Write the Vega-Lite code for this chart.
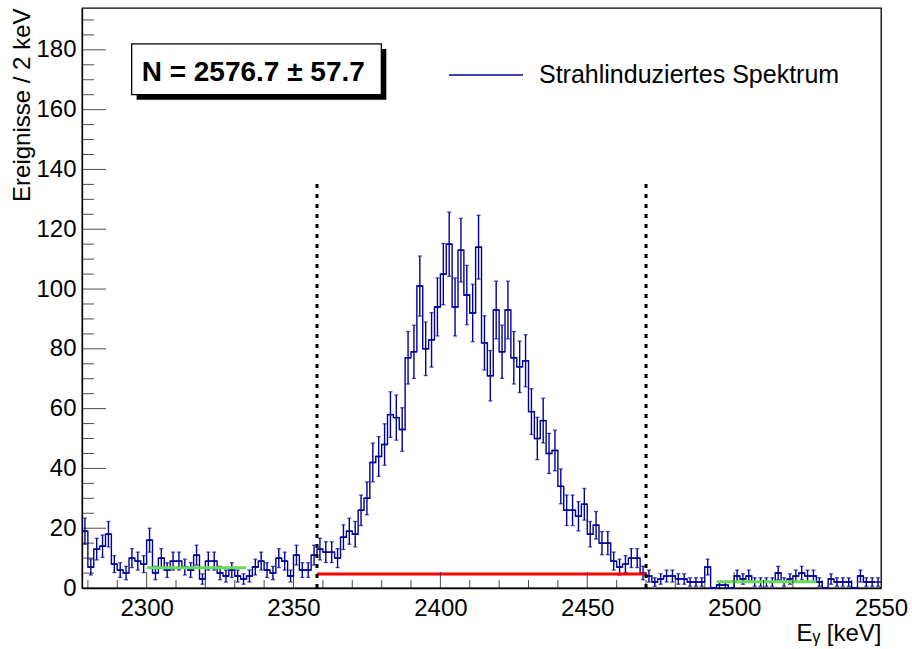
{
  "$schema": "https://vega.github.io/schema/vega-lite/v6.json",
  "width": 799,
  "height": 580,
  "autosize": {"type": "none"},
  "padding": {"left": 82, "top": 8, "right": 31, "bottom": 61},
  "background": "white",
  "config": {"view": {"stroke": "black", "strokeWidth": 1.3}, "font": "Liberation Sans"},
  "datasets": {
    "h": [
      {"e":2278,"n":19},{"e":2280,"n":7},{"e":2282,"n":13},{"e":2284,"n":14},{"e":2286,"n":18},{"e":2288,"n":8},{"e":2290,"n":6},{"e":2292,"n":5},{"e":2294,"n":10},{"e":2296,"n":9},
      {"e":2298,"n":8},{"e":2300,"n":16},{"e":2302,"n":5},{"e":2304,"n":10},{"e":2306,"n":6},{"e":2308,"n":9},{"e":2310,"n":9},{"e":2312,"n":7},{"e":2314,"n":6},{"e":2316,"n":11},
      {"e":2318,"n":3},{"e":2320,"n":9},{"e":2322,"n":9},{"e":2324,"n":5},{"e":2326,"n":4},{"e":2328,"n":6},{"e":2330,"n":4},{"e":2332,"n":3},{"e":2334,"n":4},{"e":2336,"n":7},
      {"e":2338,"n":9},{"e":2340,"n":6},{"e":2342,"n":5},{"e":2344,"n":10},{"e":2346,"n":9},{"e":2348,"n":4},{"e":2350,"n":11},{"e":2352,"n":6},{"e":2354,"n":6},{"e":2356,"n":11},
      {"e":2358,"n":13},{"e":2360,"n":12},{"e":2362,"n":12},{"e":2364,"n":10},{"e":2366,"n":17},{"e":2368,"n":19},{"e":2370,"n":18},{"e":2372,"n":26},{"e":2374,"n":30},{"e":2376,"n":42},
      {"e":2378,"n":44},{"e":2380,"n":48},{"e":2382,"n":58},{"e":2384,"n":57},{"e":2386,"n":53},{"e":2388,"n":77},{"e":2390,"n":79},{"e":2392,"n":101},{"e":2394,"n":80},{"e":2396,"n":83},
      {"e":2398,"n":94},{"e":2400,"n":105},{"e":2402,"n":115},{"e":2404,"n":94},{"e":2406,"n":113},{"e":2408,"n":98},{"e":2410,"n":92},{"e":2412,"n":114},{"e":2414,"n":82},{"e":2416,"n":71},
      {"e":2418,"n":93},{"e":2420,"n":79},{"e":2422,"n":93},{"e":2424,"n":77},{"e":2426,"n":74},{"e":2428,"n":76},{"e":2430,"n":59},{"e":2432,"n":50},{"e":2434,"n":56},{"e":2436,"n":45},
      {"e":2438,"n":46},{"e":2440,"n":34},{"e":2442,"n":26},{"e":2444,"n":26},{"e":2446,"n":24},{"e":2448,"n":28},{"e":2450,"n":18},{"e":2452,"n":21},{"e":2454,"n":15},{"e":2456,"n":15},
      {"e":2458,"n":9},{"e":2460,"n":7},{"e":2462,"n":8},{"e":2464,"n":10},{"e":2466,"n":10},{"e":2468,"n":5},{"e":2470,"n":4},{"e":2472,"n":2},{"e":2474,"n":3},{"e":2476,"n":4},
      {"e":2478,"n":4},{"e":2480,"n":3},{"e":2482,"n":3},{"e":2484,"n":2},{"e":2486,"n":2},{"e":2488,"n":2},{"e":2490,"n":7},{"e":2492,"n":0},{"e":2494,"n":1},{"e":2496,"n":1},
      {"e":2498,"n":0},{"e":2500,"n":4},{"e":2502,"n":3},{"e":2504,"n":4},{"e":2506,"n":2},{"e":2508,"n":2},{"e":2510,"n":2},{"e":2512,"n":2},{"e":2514,"n":5},{"e":2516,"n":2},
      {"e":2518,"n":3},{"e":2520,"n":4},{"e":2522,"n":5},{"e":2524,"n":4},{"e":2526,"n":4},{"e":2528,"n":2},{"e":2530,"n":0},{"e":2532,"n":3},{"e":2534,"n":2},{"e":2536,"n":2},
      {"e":2538,"n":2},{"e":2540,"n":0},{"e":2542,"n":4},{"e":2544,"n":2},{"e":2546,"n":2},{"e":2548,"n":2}
    ],
    "green": [{"a":2300,"b":2334,"v":6.8},{"a":2494,"b":2528,"v":2.1}],
    "red": [{"a":2358,"b":2470,"v":4.7}],
    "cuts": [{"x":2358,"lo":0,"top":135.6},{"x":2470,"lo":0,"top":135.6}],
    "xmaj": [{"t":2300},{"t":2350},{"t":2400},{"t":2450},{"t":2500}],
    "xmin": [{"t":2280},{"t":2290},{"t":2310},{"t":2320},{"t":2330},{"t":2340},{"t":2360},{"t":2370},{"t":2380},{"t":2390},{"t":2410},{"t":2420},{"t":2430},{"t":2440},{"t":2460},{"t":2470},{"t":2480},{"t":2490},{"t":2510},{"t":2520},{"t":2530},{"t":2540}],
    "ymaj": [{"t":20},{"t":40},{"t":60},{"t":80},{"t":100},{"t":120},{"t":140},{"t":160},{"t":180}],
    "ymin": [{"t":5},{"t":10},{"t":15},{"t":25},{"t":30},{"t":35},{"t":45},{"t":50},{"t":55},{"t":65},{"t":70},{"t":75},{"t":85},{"t":90},{"t":95},{"t":105},{"t":110},{"t":115},{"t":125},{"t":130},{"t":135},{"t":145},{"t":150},{"t":155},{"t":165},{"t":170},{"t":175},{"t":185},{"t":190}]
  },
  "data": {"name": "h"},
  "transform": [
    {"calculate": "datum.e + 2", "as": "e2"},
    {"calculate": "datum.e + 1", "as": "c"},
    {"calculate": "datum.n - sqrt(datum.n)", "as": "lo"},
    {"calculate": "datum.n + sqrt(datum.n)", "as": "hi"}
  ],
  "layer": [
    {
      "mark": {"type": "rule", "strokeWidth": 1.4},
      "encoding": {
        "x": {"field": "e", "type": "quantitative", "scale": {"domain": [2278, 2550], "nice": false, "zero": false},
          "axis": {"orient": "bottom", "values": [2300, 2350, 2400, 2450, 2500, 2550], "format": "d", "ticks": false, "grid": false,
            "labelPadding": 8, "domainColor": "black", "domainWidth": 1.3, "labelFontSize": 24, "labelColor": "black", "labelFlush": false, "labelOverlap": false, "labelBound": false,
            "title": "Eᵧ [keV]", "titleAnchor": "end", "titleFontSize": 24, "titleFontWeight": "normal", "titleColor": "black", "titlePadding": 1}},
        "x2": {"field": "e2"},
        "y": {"field": "n", "type": "quantitative", "scale": {"domain": [0, 194], "nice": false, "zero": true},
          "axis": {"orient": "left", "values": [0, 20, 40, 60, 80, 100, 120, 140, 160, 180], "ticks": false, "grid": false,
            "labelPadding": 6, "domainColor": "black", "domainWidth": 1.3, "labelFontSize": 24, "labelColor": "black", "labelOverlap": false,
            "title": "Ereignisse / 2 keV", "titleAnchor": "end", "titleFontSize": 24, "titleFontWeight": "normal", "titleColor": "black", "titlePadding": 1}},
        "color": {"datum": "Strahlinduziertes Spektrum", "scale": {"range": ["#000099"]},
          "legend": {"orient": "none", "legendX": 366, "legendY": 29, "title": null, "symbolType": "stroke", "symbolSize": 5476, "symbolStrokeWidth": 1.5, "labelFontSize": 25, "labelColor": "black", "labelFont": "Liberation Sans", "labelOffset": 15, "labelLimit": 0, "padding": 0}}
      }
    },
    {
      "mark": {"type": "line", "interpolate": "step-after", "strokeWidth": 1.4, "color": "#000099"},
      "encoding": {
        "x": {"field": "e", "type": "quantitative"},
        "y": {"field": "n", "type": "quantitative"}
      }
    },
    {
      "transform": [{"filter": "datum.n > 0"}],
      "mark": {"type": "rule", "strokeWidth": 1.4, "color": "#000099"},
      "encoding": {
        "x": {"field": "c", "type": "quantitative"},
        "y": {"field": "lo", "type": "quantitative"},
        "y2": {"field": "hi"}
      }
    },
    {
      "transform": [{"filter": "datum.n > 0"}],
      "mark": {"type": "tick", "orient": "horizontal", "size": 4, "thickness": 1.3, "color": "#000099"},
      "encoding": {
        "x": {"field": "c", "type": "quantitative"},
        "y": {"field": "lo", "type": "quantitative"}
      }
    },
    {
      "transform": [{"filter": "datum.n > 0"}],
      "mark": {"type": "tick", "orient": "horizontal", "size": 4, "thickness": 1.3, "color": "#000099"},
      "encoding": {
        "x": {"field": "c", "type": "quantitative"},
        "y": {"field": "hi", "type": "quantitative"}
      }
    },
    {
      "data": {"name": "green"},
      "mark": {"type": "rule", "strokeWidth": 3, "color": "#66dd55"},
      "encoding": {
        "x": {"field": "a", "type": "quantitative"},
        "x2": {"field": "b"},
        "y": {"field": "v", "type": "quantitative"}
      }
    },
    {
      "data": {"name": "red"},
      "mark": {"type": "rule", "strokeWidth": 3, "color": "#ff0000"},
      "encoding": {
        "x": {"field": "a", "type": "quantitative"},
        "x2": {"field": "b"},
        "y": {"field": "v", "type": "quantitative"}
      }
    },
    {
      "data": {"name": "cuts"},
      "mark": {"type": "rule", "strokeWidth": 3, "strokeDash": [4, 6], "color": "black"},
      "encoding": {
        "x": {"field": "x", "type": "quantitative"},
        "y": {"field": "lo", "type": "quantitative"},
        "y2": {"field": "top"}
      }
    },
    {
      "data": {"name": "xmaj"},
      "mark": {"type": "tick", "orient": "vertical", "size": 16, "thickness": 1, "yOffset": -8, "color": "black"},
      "encoding": {
        "x": {"field": "t", "type": "quantitative"},
        "y": {"datum": 0, "type": "quantitative"}
      }
    },
    {
      "data": {"name": "xmin"},
      "mark": {"type": "tick", "orient": "vertical", "size": 8, "thickness": 1, "yOffset": -4, "color": "black"},
      "encoding": {
        "x": {"field": "t", "type": "quantitative"},
        "y": {"datum": 0, "type": "quantitative"}
      }
    },
    {
      "data": {"name": "ymaj"},
      "mark": {"type": "tick", "orient": "horizontal", "size": 24, "thickness": 1, "xOffset": 12, "color": "black"},
      "encoding": {
        "x": {"datum": 2278, "type": "quantitative"},
        "y": {"field": "t", "type": "quantitative"}
      }
    },
    {
      "data": {"name": "ymin"},
      "mark": {"type": "tick", "orient": "horizontal", "size": 12, "thickness": 1, "xOffset": 6, "color": "black"},
      "encoding": {
        "x": {"datum": 2278, "type": "quantitative"},
        "y": {"field": "t", "type": "quantitative"}
      }
    },
    {
      "data": {"values": [{}]},
      "mark": {"type": "rect", "color": "black"},
      "encoding": {
        "x": {"datum": 2296.6, "type": "quantitative"},
        "x2": {"datum": 2381.6},
        "y": {"datum": 180.3, "type": "quantitative"},
        "y2": {"datum": 163.3}
      }
    },
    {
      "data": {"values": [{}]},
      "mark": {"type": "rect", "fill": "white", "stroke": "black", "strokeWidth": 1.3},
      "encoding": {
        "x": {"datum": 2294.9, "type": "quantitative"},
        "x2": {"datum": 2379.9},
        "y": {"datum": 182.0, "type": "quantitative"},
        "y2": {"datum": 165.0}
      }
    },
    {
      "data": {"values": [{}]},
      "mark": {"type": "text", "text": "N = 2576.7  ± 57.7", "fontSize": 28, "fontWeight": "bold", "font": "Liberation Sans", "align": "center", "baseline": "alphabetic", "color": "black"},
      "encoding": {
        "x": {"datum": 2336.3, "type": "quantitative"},
        "y": {"datum": 169.5, "type": "quantitative"}
      }
    }
  ]
}
